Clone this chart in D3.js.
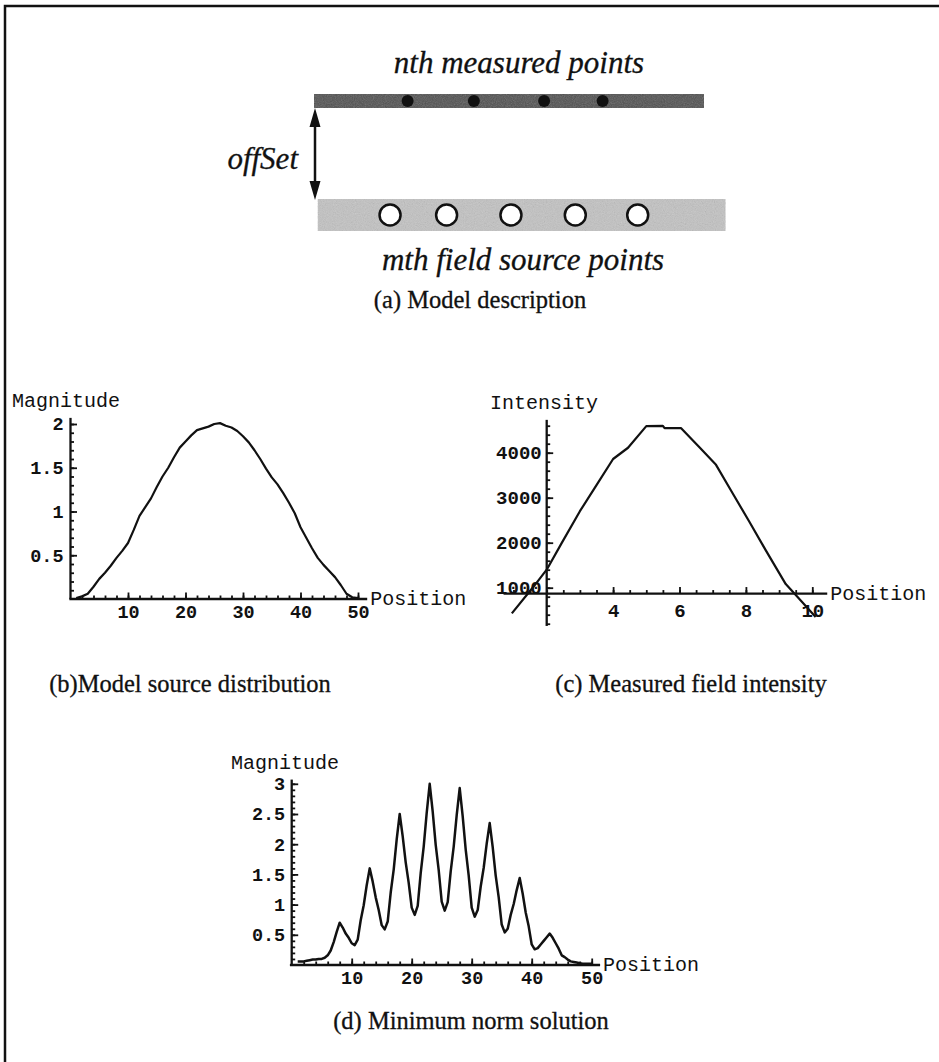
<!DOCTYPE html>
<html>
<head>
<meta charset="utf-8">
<script src="https://cdn.jsdelivr.net/npm/d3@7/dist/d3.min.js"></script>
<style>
  body { margin: 0; background: #fff; }
</style>
</head>
<body>
<div id="figure"></div>
<script>
'use strict';

// (a) model diagram: point positions along the bars (diagram units 0..10)
const MEASURED_POINTS = [2.4, 4.1, 5.9, 7.4];
const SOURCE_POINTS = [1.95, 3.4, 5.05, 6.7, 8.3];

// (b) model source distribution
const SOURCE_POS = d3.range(1, 51);
const SOURCE_MAG = [
  0.01, 0.03, 0.06, 0.14, 0.23, 0.30, 0.38, 0.47, 0.55, 0.64,
  0.79, 0.95, 1.05, 1.15, 1.28, 1.40, 1.50, 1.62, 1.73, 1.80,
  1.87, 1.93, 1.95, 1.97, 2.00, 2.01, 1.98, 1.96, 1.92, 1.86,
  1.79, 1.70, 1.60, 1.49, 1.39, 1.31, 1.21, 1.10, 0.98, 0.82,
  0.70, 0.58, 0.47, 0.39, 0.32, 0.25, 0.16, 0.06, 0.02, 0.01
];
const B_X_TICKS = [10, 20, 30, 40, 50];
const B_Y_TICKS = [0.5, 1, 1.5, 2];

// (c) measured field intensity
const FIELD_POS = [0.95, 1.6, 2.0, 2.45, 3.0, 3.5, 4.0, 4.45, 5.0, 5.5,
  5.55, 6.05, 6.6, 7.1, 7.6, 8.1, 8.6, 9.2, 9.55, 10.1];
const FIELD_INT = [430, 1020, 1400, 1990, 2700, 3280, 3860, 4110, 4590, 4595,
  4545, 4545, 4120, 3730, 3100, 2470, 1830, 1080, 800, 350];
const C_X_TICKS = [4, 6, 8, 10];
const C_Y_TICKS = [1000, 2000, 3000, 4000];

// (d) minimum norm solution
const NORM_POS = d3.range(1, 50.5, 0.5);
const NORM_MAG = [
  0.06, 0.06, 0.06, 0.07, 0.08, 0.09, 0.09, 0.10, 0.10, 0.12,
  0.16, 0.24, 0.38, 0.55, 0.70, 0.62, 0.52, 0.45, 0.36, 0.33,
  0.42, 0.74, 0.99, 1.32, 1.60, 1.38, 1.12, 0.91, 0.66, 0.59,
  0.72, 1.20, 1.58, 2.08, 2.50, 2.13, 1.70, 1.36, 0.95, 0.83,
  0.98, 1.52, 1.96, 2.52, 3.00, 2.54, 1.99, 1.57, 1.05, 0.90,
  1.04, 1.55, 1.96, 2.48, 2.93, 2.46, 1.91, 1.48, 0.95, 0.80,
  0.91, 1.30, 1.61, 2.01, 2.35, 1.95, 1.48, 1.12, 0.67, 0.54,
  0.60, 0.83, 1.01, 1.24, 1.44, 1.18, 0.87, 0.64, 0.34, 0.26,
  0.28, 0.34, 0.40, 0.46, 0.52, 0.45, 0.36, 0.27, 0.16, 0.13,
  0.09, 0.06, 0.05, 0.04, 0.03, 0.02, 0.02, 0.02, 0.02
];
const D_X_TICKS = [10, 20, 30, 40, 50];
const D_Y_TICKS = [0.5, 1, 1.5, 2, 2.5, 3];

const W = 939, H = 1062;
const MONO = '"Liberation Mono", "Courier New", monospace';
const SERIF = '"Liberation Serif", "Times New Roman", serif';

const svg = d3.select('#figure').append('svg')
  .attr('width', W)
  .attr('height', H)
  .style('display', 'block');

// halftone-like grain for the bars of the diagram
const defs = svg.append('defs');
const grain = defs.append('filter').attr('id', 'grain')
  .attr('x', 0).attr('y', 0).attr('width', 1).attr('height', 1);
grain.append('feTurbulence')
  .attr('type', 'fractalNoise')
  .attr('baseFrequency', 0.9)
  .attr('numOctaves', 2)
  .attr('seed', 4)
  .attr('result', 'noise');
grain.append('feColorMatrix')
  .attr('in', 'noise')
  .attr('type', 'saturate')
  .attr('values', 0)
  .attr('result', 'grey');
grain.append('feComponentTransfer')
  .attr('in', 'grey')
  .append('feFuncA')
  .attr('type', 'table')
  .attr('tableValues', '0 0.55');

// scanned frame (top + left only)
svg.append('path')
  .attr('d', 'M5,1062 L5,6 L939,6')
  .attr('fill', 'none')
  .attr('stroke', '#111')
  .attr('stroke-width', 2.5);

function drawDiagram() {
  const g = svg.append('g');
  const dx = d3.scaleLinear().domain([0, 10]).range([314, 704]);

  const bar = (x0, x1, y, h, fill) => {
    g.append('rect')
      .attr('x', dx(x0)).attr('y', y)
      .attr('width', dx(x1) - dx(x0)).attr('height', h)
      .attr('fill', fill);
    g.append('rect')
      .attr('x', dx(x0)).attr('y', y)
      .attr('width', dx(x1) - dx(x0)).attr('height', h)
      .attr('fill', '#fff')
      .attr('filter', 'url(#grain)')
      .attr('opacity', 0.6);
  };

  // measured (dark) bar
  bar(0, 10, 94, 14, '#4f4f4f');
  g.selectAll('.mpt')
    .data(MEASURED_POINTS)
    .join('circle')
    .attr('class', 'mpt')
    .attr('cx', d => dx(d)).attr('cy', 101)
    .attr('r', 6)
    .attr('fill', '#111');

  // source (light) bar
  bar(0.1, 10.55, 199, 32, '#c2c2c2');
  g.selectAll('.spt')
    .data(SOURCE_POINTS)
    .join('circle')
    .attr('class', 'spt')
    .attr('cx', d => dx(d)).attr('cy', 215)
    .attr('r', 10.5)
    .attr('fill', '#fff')
    .attr('stroke', '#111')
    .attr('stroke-width', 2.5);

  // double arrow for offset
  const ax = dx(0) + 1;
  g.append('line')
    .attr('x1', ax).attr('x2', ax)
    .attr('y1', 118).attr('y2', 190)
    .attr('stroke', '#111').attr('stroke-width', 2.5);
  g.append('path')
    .attr('d', `M${ax},108 L${ax - 5.5},127 L${ax + 5.5},127 Z M${ax},200 L${ax - 5.5},181 L${ax + 5.5},181 Z`)
    .attr('fill', '#111');

  const italic = (txt, x, y, anchor) => g.append('text')
    .attr('x', x).attr('y', y)
    .attr('text-anchor', anchor)
    .attr('font-family', SERIF)
    .attr('font-style', 'italic')
    .attr('font-size', 31)
    .attr('fill', '#111')
    .attr('stroke', '#111')
    .attr('stroke-width', 0.3)
    .text(txt);

  italic('nth measured points', 519, 73, 'middle');
  italic('offSet', 298, 169, 'end');
  italic('mth field source points', 523, 270, 'middle');
}

function caption(txt, x, y) {
  svg.append('text')
    .attr('x', x).attr('y', y)
    .attr('text-anchor', 'middle')
    .attr('font-family', SERIF)
    .attr('font-size', 24.5)
    .attr('fill', '#111')
    .attr('stroke', '#111')
    .attr('stroke-width', 0.3)
    .text(txt);
}

function drawPanel(p) {
  const g = svg.append('g');
  const x = d3.scaleLinear().domain(p.xDomain).range(p.xRange);
  const y = d3.scaleLinear().domain(p.yDomain).range(p.yRange);
  const x0 = x(p.origin[0]);
  const y0 = y(p.origin[1]);

  // axis lines
  g.append('line')
    .attr('x1', x(p.xExtent[0])).attr('x2', x(p.xExtent[1]))
    .attr('y1', y0).attr('y2', y0)
    .attr('stroke', '#111').attr('stroke-width', 2.3);
  g.append('line')
    .attr('x1', x0).attr('x2', x0)
    .attr('y1', y(p.yExtent[0])).attr('y2', y(p.yExtent[1]))
    .attr('stroke', '#111').attr('stroke-width', 2.3);

  // minor ticks
  g.append('g')
    .attr('transform', `translate(0,${y0})`)
    .call(d3.axisBottom(x).tickValues(p.xMinor).tickSize(-3.5).tickFormat(''))
    .call(s => s.select('.domain').remove());
  g.append('g')
    .attr('transform', `translate(${x0},0)`)
    .call(d3.axisLeft(y).tickValues(p.yMinor).tickSize(-3.5).tickFormat(''))
    .call(s => s.select('.domain').remove());

  // major ticks with labels
  const xa = g.append('g')
    .attr('transform', `translate(0,${y0})`)
    .call(d3.axisBottom(x).tickValues(p.xTicks).tickSize(-6.5).tickPadding(p.xPad).tickFormat(d3.format('')))
    .call(s => s.select('.domain').remove());
  const ya = g.append('g')
    .attr('transform', `translate(${x0},0)`)
    .call(d3.axisLeft(y).tickValues(p.yTicks).tickSize(-6.5).tickPadding(p.yPad).tickFormat(d3.format('')))
    .call(s => s.select('.domain').remove());

  [xa, ya].forEach(a => {
    a.attr('font-family', MONO).attr('font-size', p.tickFont).attr('font-weight', 'bold');
    a.selectAll('text').attr('fill', '#111');
  });
  g.selectAll('.tick line').attr('stroke', '#111').attr('stroke-width', 1.8);

  // curve
  const line = d3.line().x(d => x(d[0])).y(d => y(d[1]));
  g.append('path')
    .datum(d3.zip(p.xs, p.ys))
    .attr('d', line)
    .attr('fill', 'none')
    .attr('stroke', '#111')
    .attr('stroke-width', p.lineWidth)
    .attr('stroke-linejoin', 'round');

  // axis titles
  g.append('text')
    .attr('x', p.yTitle[0]).attr('y', p.yTitle[1])
    .attr('font-family', MONO).attr('font-size', 20).attr('fill', '#111')
    .text(p.yLabel);
  g.append('text')
    .attr('x', x(p.xExtent[1]) + 3).attr('y', y0 + 6)
    .attr('font-family', MONO).attr('font-size', 20).attr('fill', '#111')
    .text('Position');
}

drawDiagram();
caption('(a) Model description', 480, 308);

drawPanel({
  xs: SOURCE_POS, ys: SOURCE_MAG,
  xDomain: [0, 50], xRange: [70.5, 358],
  yDomain: [0, 2], yRange: [599, 424],
  origin: [0, 0],
  xExtent: [-0.2, 51.6], yExtent: [0, 2.07],
  xTicks: B_X_TICKS, yTicks: B_Y_TICKS,
  xMinor: d3.range(2, 51, 2), yMinor: d3.range(0.1, 2.05, 0.1),
  xPad: 6, yPad: 7, tickFont: 18.5, lineWidth: 2.2,
  yLabel: 'Magnitude', yTitle: [12, 407]
});
caption('(b)Model source distribution', 190, 692);

drawPanel({
  xs: FIELD_POS, ys: FIELD_INT,
  xDomain: [2, 10], xRange: [546.7, 812.3],
  yDomain: [1000, 4000], yRange: [587.7, 452.7],
  origin: [2, 870],
  xExtent: [0.7, 10.45], yExtent: [150, 4730],
  xTicks: C_X_TICKS, yTicks: C_Y_TICKS,
  xMinor: d3.range(1, 10.4, 0.5), yMinor: d3.range(200, 4700, 200),
  xPad: 10, yPad: 5, tickFont: 19, lineWidth: 2.2,
  yLabel: 'Intensity', yTitle: [490, 409]
});
caption('(c) Measured field intensity', 691, 692);

drawPanel({
  xs: NORM_POS, ys: NORM_MAG,
  xDomain: [0, 50], xRange: [291.7, 591.7],
  yDomain: [0, 3], yRange: [965, 783.8],
  origin: [0, 0],
  xExtent: [-0.3, 51.4], yExtent: [0, 3.07],
  xTicks: D_X_TICKS, yTicks: D_Y_TICKS,
  xMinor: d3.range(2, 51, 2), yMinor: d3.range(0.1, 3.05, 0.1),
  xPad: 5.5, yPad: 6.5, tickFont: 18.5, lineWidth: 2.5,
  yLabel: 'Magnitude', yTitle: [231, 769]
});
caption('(d) Minimum norm solution', 471, 1029);
</script>
</body>
</html>
